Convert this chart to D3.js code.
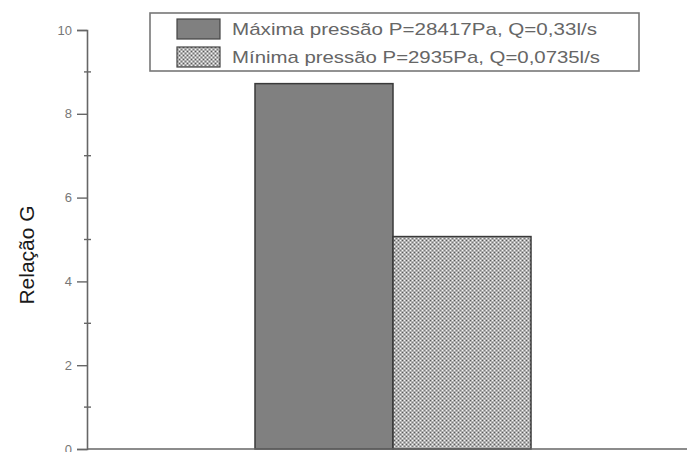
<!DOCTYPE html>
<html>
<head>
<meta charset="utf-8">
<script src="https://cdn.jsdelivr.net/npm/d3@7"></script>
<style>
  body { margin: 0; background: #fff; }
  svg { display: block; font-family: "Liberation Sans", Arial, sans-serif; }
</style>
</head>
<body>
<div id="area"></div>
<script>
var seriesNames = ["Máxima pressão P=28417Pa, Q=0,33l/s", "Mínima pressão P=2935Pa, Q=0,0735l/s"];
var seriesValues = [8.72, 5.07];
var yTicks = [0, 2, 4, 6, 8, 10];
var yMinorTicks = [1, 3, 5, 7, 9];

var W = 687, H = 452;
var svg = d3.select("#area").append("svg")
  .attr("width", W).attr("height", H);

// checkered pattern for the second series
var defs = svg.append("defs");
var pat = defs.append("pattern")
  .attr("id", "chk").attr("patternUnits", "userSpaceOnUse")
  .attr("width", 4).attr("height", 4);
pat.append("rect").attr("width", 4).attr("height", 4).attr("fill", "#b0b0b0");
pat.append("rect").attr("x", 0).attr("y", 0).attr("width", 1).attr("height", 1).attr("fill", "#f4f4f4");
pat.append("rect").attr("x", 2).attr("y", 2).attr("width", 1).attr("height", 1).attr("fill", "#f4f4f4");
pat.append("rect").attr("x", 2).attr("y", 0).attr("width", 1).attr("height", 1).attr("fill", "#5a5a5a");
pat.append("rect").attr("x", 0).attr("y", 2).attr("width", 1).attr("height", 1).attr("fill", "#7a7a7a");

var fills = ["#808080", "url(#chk)"];

var y = d3.scaleLinear().domain([0, 10]).range([449, 30]);
var x = d3.scaleBand().domain(seriesNames).range([255, 531]).padding(0);

// bars
svg.selectAll(".bar")
  .data(seriesNames)
  .enter()
  .append("rect")
  .attr("x", function (d) { return x(d); })
  .attr("y", function (d, i) { return y(seriesValues[i]); })
  .attr("width", x.bandwidth())
  .attr("height", function (d, i) { return y(0) - y(seriesValues[i]); })
  .attr("fill", function (d, i) { return fills[i]; })
  .attr("stroke", "#3a3a3a")
  .attr("stroke-width", 1.5);

// y axis
var yAxis = svg.append("g")
  .attr("transform", "translate(87,0)")
  .call(d3.axisLeft(y).tickValues(yTicks).tickSize(10).tickPadding(5).tickFormat(d3.format("d")));
yAxis.select(".domain").attr("stroke", "#666").attr("stroke-width", 1.6);
yAxis.selectAll(".tick line").attr("stroke", "#666").attr("stroke-width", 1.4);
yAxis.selectAll(".tick text").attr("fill", "#777").style("font-size", "13px");

svg.append("g").selectAll("line")
  .data(yMinorTicks)
  .enter()
  .append("line")
  .attr("x1", 84).attr("x2", 91)
  .attr("y1", function (d) { return y(d); })
  .attr("y2", function (d) { return y(d); })
  .attr("stroke", "#666").attr("stroke-width", 1.4);

// x axis line
svg.append("line")
  .attr("x1", 87).attr("x2", W)
  .attr("y1", y(0)).attr("y2", y(0))
  .attr("stroke", "#666").attr("stroke-width", 1.6);

// y label
svg.append("text")
  .attr("transform", "translate(34,255) rotate(-90)")
  .attr("text-anchor", "middle")
  .attr("fill", "#1a1a1a")
  .style("font-size", "21px")
  .text("Relação G");

// legend
var lg = svg.append("g");
lg.append("rect")
  .attr("x", 150).attr("y", 13).attr("width", 489).attr("height", 58)
  .attr("fill", "#fff").attr("stroke", "#777").attr("stroke-width", 1.6);

var rows = lg.selectAll(".row")
  .data(seriesNames)
  .enter()
  .append("g")
  .attr("transform", function (d, i) { return "translate(177," + (19 + i * 28) + ")"; });
rows.append("rect")
  .attr("width", 43).attr("height", 20)
  .attr("fill", function (d, i) { return fills[i]; })
  .attr("stroke", "#444").attr("stroke-width", 1.2);
rows.append("text")
  .attr("x", 55).attr("y", 16)
  .attr("fill", "#666")
  .style("font-size", "17px")
  .attr("textLength", function (d, i) { return i === 0 ? 365 : 368; })
  .attr("lengthAdjust", "spacingAndGlyphs")
  .text(function (d) { return d; });
</script>
</body>
</html>
